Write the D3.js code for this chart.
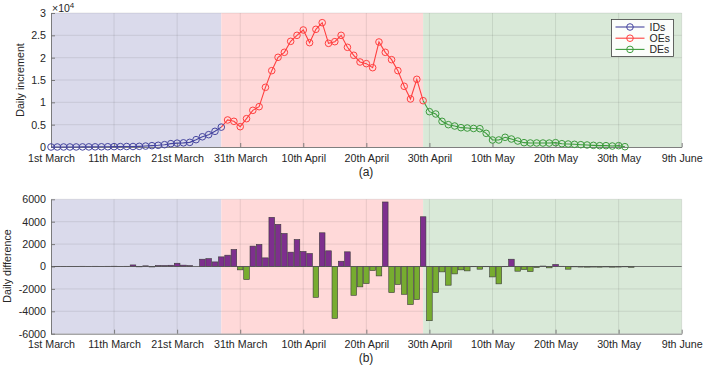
<!DOCTYPE html>
<html>
<head>
<meta charset="utf-8">
<script src="https://d3js.org/d3.v7.min.js"></script>
<style>
  body { margin: 0; background: #fff; }
  svg { display: block; font-family: "Liberation Sans", Arial, sans-serif; }
</style>
</head>
<body>
<div id="chart"></div>
<script>
var canvasWidth = 703;
var canvasHeight = 366;

/*Tick labels along the date axis (day 0 = 1st March)*/
var tickDays = [0, 10, 20, 30, 40, 50, 60, 70, 80, 90, 100];
var tickLabels = ["1st March", "11th March", "21st March", "31th March", "10th April",
    "20th April", "30th April", "10th May", "20th May", "30th May", "9th June"];

/*Phases: [first day, last day]*/
var phaseNames = ["IDs", "OEs", "DEs"];
var phaseStart = [0, 27, 59];
var phaseEnd = [27, 59, 100];

/*Daily increment, one value per day*/
var idsValues = [0, 2, 5, 8, 12, 20, 25, 40, 50, 60, 80, 90, 110, 110, 150, 210, 300, 380, 520, 750,
    860, 930, 1040, 1640, 2290, 2760, 3510, 4450];                       // days 0-27
var oesValues = [6050, 5750, 4550, 6340, 8210, 9030, 13360, 17090, 20080, 21200, 23660, 25000,
    26200, 23360, 26350, 27830, 23210, 23580, 25000, 22320, 20530, 19030, 18660, 17760,
    23510, 21200, 19550, 17090, 13590, 10750, 15150, 10370];              // days 28-59
var desValues = [7910, 7390, 5750, 5000, 4700, 4330, 4250, 4150, 4100, 3060, 1570, 1570, 2170,
    1790, 1340, 970, 900, 900, 890, 880, 970, 740, 670, 600, 520, 450, 370, 300, 300, 220,
    300, 70];                                                             // days 60-91

/*Daily difference, one bar per day (days 0-92)*/
var diffValues = [0, 5, 5, 10, 10, 20, 15, 20, 15, 20, 25, 15, 20, 140, -30, 60, -40, 90, 90, 110,
    290, 120, 80, 0, 650, 700, 410, 860, 1010, 1520, -300, -1160, 1820, 1970, 770, 4390,
    3760, 2950, 1280, 2410, 1340, 1160, -2750, 3010, 1400, -4630, 470, 1310, -2570, -1820,
    -1520, -360, -840, 5760, -2330, -1610, -2480, -3400, -2950, 4440, -4840, -2330, -480,
    -1670, -660, -300, -390, -20, -240, -20, -930, -1550, -20, 650, -420, -270, -450, -90,
    40, -120, 180, 20, -240, -30, -50, -60, -50, -60, -40, -60, -50, -30, -70];

var phaseBg = ["#dadaeb", "#ffd9d9", "#d9e9d8"];
var lineColors = ["#45459f", "#ff3f3f", "#3d9b3d"];

var svg = d3.select("#chart")
    .append("svg")
    .attr("width", canvasWidth)
    .attr("height", canvasHeight);

/*Shared x scale*/
var xScale = d3.scaleLinear().domain([0, 100]).range([51, 681.7]);

var yTop = d3.scaleLinear().domain([0, 30000]).range([147, 13]);
var yBot = d3.scaleLinear().domain([-6000, 6000]).range([333.7, 199.3]);

/*Draws phase shading, grid and axes for one panel*/
function drawPanel(yScale, yTicks, yFormat) {
    var g = svg.append("g");
    var y0 = yScale.range()[0], y1 = yScale.range()[1];

    g.selectAll(".bg")
        .data(phaseNames)
        .join("rect")
        .attr("x", (d, i) => xScale(phaseStart[i]))
        .attr("width", (d, i) => xScale(phaseEnd[i]) - xScale(phaseStart[i]))
        .attr("y", y1)
        .attr("height", y0 - y1)
        .attr("fill", (d, i) => phaseBg[i]);

    g.selectAll(".vgrid")
        .data(tickDays.slice(1))
        .join("line")
        .attr("x1", d => xScale(d)).attr("x2", d => xScale(d))
        .attr("y1", y0).attr("y2", y1)
        .attr("stroke", "#262626").attr("stroke-opacity", 0.13).attr("stroke-width", 0.8);

    g.selectAll(".hgrid")
        .data(yTicks.slice(1))
        .join("line")
        .attr("x1", xScale(0)).attr("x2", xScale(100))
        .attr("y1", d => yScale(d)).attr("y2", d => yScale(d))
        .attr("stroke", "#262626").attr("stroke-opacity", 0.13).attr("stroke-width", 0.8);

    var xAxis = g.append("g")
        .attr("transform", "translate(0," + y0 + ")")
        .call(d3.axisBottom(xScale).tickValues(tickDays)
            .tickFormat((d, i) => tickLabels[i])
            .tickSizeInner(-4).tickSizeOuter(0).tickPadding(7));

    var yAxis = g.append("g")
        .attr("transform", "translate(" + xScale(0) + ",0)")
        .call(d3.axisLeft(yScale).tickValues(yTicks)
            .tickFormat(yFormat)
            .tickSizeInner(-4).tickSizeOuter(0).tickPadding(5));

    [xAxis, yAxis].forEach(function(a) {
        a.select(".domain").attr("stroke", "#707070").attr("stroke-width", 0.9);
        a.selectAll(".tick line").attr("stroke", "#707070").attr("stroke-width", 0.9);
        a.selectAll(".tick text").attr("fill", "#262626").attr("font-size", 10.7)
            .attr("font-family", "Liberation Sans, Arial, sans-serif");
    });
    return g;
}

/*Top panel*/
var topG = drawPanel(yTop, [0, 5000, 10000, 15000, 20000, 25000, 30000], d => d / 1e4);

var series = [
    {name: "IDs", start: 0, values: idsValues},
    {name: "OEs", start: 28, values: oesValues},
    {name: "DEs", start: 60, values: desValues}
];
series.forEach(function(s) {
    s.points = s.values.map((v, i) => ({day: s.start + i, value: v}));
});

var line = d3.line()
    .x(d => xScale(d.day))
    .y(d => yTop(d.value));

/*Lines: each phase joins on to the last point of the previous one*/
series.forEach(function(s, i) {
    var pts = i > 0 ? [series[i - 1].points[series[i - 1].points.length - 1]].concat(s.points) : s.points;
    topG.append("path")
        .datum(pts)
        .attr("fill", "none")
        .attr("stroke", lineColors[i])
        .attr("stroke-width", 1.1)
        .attr("d", line);
});

series.forEach(function(s, i) {
    topG.append("g")
        .selectAll("circle")
        .data(s.points)
        .join("circle")
        .attr("cx", d => xScale(d.day))
        .attr("cy", d => yTop(d.value))
        .attr("r", 3.3)
        .attr("fill", "none")
        .attr("stroke", lineColors[i])
        .attr("stroke-width", 1);
});

/*x10^4 exponent*/
var expo = svg.append("text")
    .attr("x", 52).attr("y", 12)
    .attr("font-size", 10.5).attr("fill", "#262626");
expo.append("tspan").text("\u00d710");
expo.append("tspan").attr("dy", -4).attr("font-size", 8).text("4");

svg.append("text")
    .attr("transform", "translate(24,80) rotate(-90)")
    .attr("text-anchor", "middle")
    .attr("font-size", 10.7).attr("fill", "#262626")
    .text("Daily increment");

/*Legend*/
var legend = svg.append("g").attr("transform", "translate(611.5,19.5)");
legend.append("rect")
    .attr("width", 62).attr("height", 37)
    .attr("fill", "#fbfdfb").attr("stroke", "#404040").attr("stroke-width", 0.8);
phaseNames.forEach(function(n, i) {
    var ly = 7.5 + i * 11.2;
    legend.append("line")
        .attr("x1", 4).attr("x2", 33).attr("y1", ly).attr("y2", ly)
        .attr("stroke", lineColors[i]).attr("stroke-width", 1.1);
    legend.append("circle")
        .attr("cx", 18.5).attr("cy", ly).attr("r", 3.3)
        .attr("fill", "none").attr("stroke", lineColors[i]);
    legend.append("text")
        .attr("x", 38).attr("y", ly + 3.8)
        .attr("font-size", 10.5).attr("fill", "#262626")
        .text(n);
});

svg.append("text")
    .attr("x", 366).attr("y", 176)
    .attr("text-anchor", "middle")
    .attr("font-size", 12).attr("fill", "#262626")
    .text("(a)");

/*Bottom panel*/
var botG = drawPanel(yBot, [-6000, -4000, -2000, 0, 2000, 4000, 6000], d => d);

var barW = 5.6;
botG.append("g")
    .selectAll("rect")
    .data(diffValues)
    .join("rect")
    .attr("x", (d, i) => xScale(i) - barW / 2)
    .attr("width", barW)
    .attr("y", d => yBot(Math.max(0, d)))
    .attr("height", d => Math.abs(yBot(d) - yBot(0)))
    .attr("fill", d => d >= 0 ? "#7e2f8e" : "#77ac30")
    .attr("stroke", "#3a3a3a")
    .attr("stroke-width", 0.6);

/*Bar baseline*/
botG.append("line")
    .attr("x1", xScale(0)).attr("x2", xScale(100))
    .attr("y1", yBot(0)).attr("y2", yBot(0))
    .attr("stroke", "#555").attr("stroke-width", 0.8);

svg.append("text")
    .attr("transform", "translate(11,266) rotate(-90)")
    .attr("text-anchor", "middle")
    .attr("font-size", 10.7).attr("fill", "#262626")
    .text("Daily difference");

svg.append("text")
    .attr("x", 366).attr("y", 362)
    .attr("text-anchor", "middle")
    .attr("font-size", 12).attr("fill", "#262626")
    .text("(b)");
</script>
</body>
</html>
